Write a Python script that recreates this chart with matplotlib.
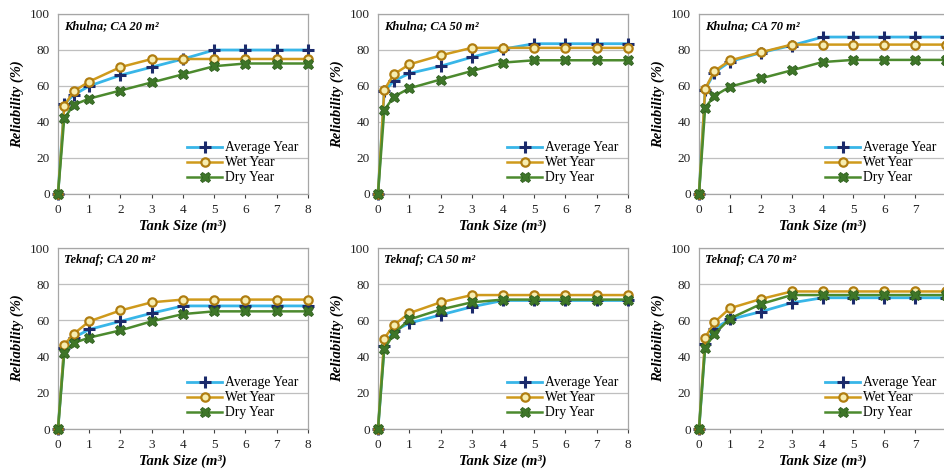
import matplotlib
matplotlib.use("Agg")
import matplotlib.pyplot as plt

tank_size = [0, 0.2, 0.5, 1, 2, 3, 4, 5, 6, 7, 8]
x_ticks = [0, 1, 2, 3, 4, 5, 6, 7, 8]
y_ticks = [0, 20, 40, 60, 80, 100]
series_names = ["Average Year", "Wet Year", "Dry Year"]

panel_titles = ["Khulna; CA 20 m²", "Khulna; CA 50 m²", "Khulna; CA 70 m²",
                "Teknaf; CA 20 m²", "Teknaf; CA 50 m²", "Teknaf; CA 70 m²"]

# Khulna
khulna20_avg = [0, 50, 55, 60, 66, 70.5, 75, 80, 80, 80, 80]
khulna20_wet = [0, 49, 57, 62.5, 70.5, 75, 75, 75, 75, 75, 75]
khulna20_dry = [0, 42, 49.5, 53, 57.5, 62, 66.5, 71, 72.5, 72.5, 72.5]

khulna50_avg = [0, 57, 62.7, 67, 71, 76, 80.5, 83.5, 83.5, 83.5, 83.5]
khulna50_wet = [0, 57.8, 66.4, 72, 77, 81.2, 81.2, 81.2, 81.2, 81.2, 81.2]
khulna50_dry = [0, 46.5, 54, 58.7, 63.6, 68.3, 73, 74.3, 74.3, 74.3, 74.3]

khulna70_avg = [0, 58, 67.5, 73.5, 78.5, 82.5, 87.2, 87.2, 87.2, 87.2, 87.2]
khulna70_wet = [0, 58.5, 68.3, 74.2, 78.7, 83, 83, 83, 83, 83, 83]
khulna70_dry = [0, 48, 54.5, 59.6, 64.2, 68.7, 73.3, 74.5, 74.5, 74.5, 74.5]

# Teknaf
teknaf20_avg = [0, 45, 50.5, 55, 59.5, 64, 68, 68, 68, 68, 68]
teknaf20_wet = [0, 46.5, 52.5, 59.5, 65.5, 70, 71.5, 71.5, 71.5, 71.5, 71.5]
teknaf20_dry = [0, 42, 47.5, 50.5, 54.5, 59.5, 63.5, 65, 65, 65, 65]

teknaf50_avg = [0, 46, 54, 58.5, 63, 67.5, 71, 71, 71, 71, 71]
teknaf50_wet = [0, 50, 57.3, 64, 70, 74, 74, 74, 74, 74, 74]
teknaf50_dry = [0, 44, 52.5, 60.5, 66, 70, 71.5, 71.5, 71.5, 71.5, 71.5]

teknaf70_avg = [0, 47, 55.5, 60.5, 64.8, 69.7, 72.5, 72.5, 72.5, 72.5, 72.5]
teknaf70_wet = [0, 50.5, 59, 66.7, 71.8, 76, 76, 76, 76, 76, 76]
teknaf70_dry = [0, 45, 52.5, 61, 69, 74, 74, 74, 74, 74, 74]

panel_data = [
    (khulna20_avg, khulna20_wet, khulna20_dry),
    (khulna50_avg, khulna50_wet, khulna50_dry),
    (khulna70_avg, khulna70_wet, khulna70_dry),
    (teknaf20_avg, teknaf20_wet, teknaf20_dry),
    (teknaf50_avg, teknaf50_wet, teknaf50_dry),
    (teknaf70_avg, teknaf70_wet, teknaf70_dry),
]

plt.rcParams['font.family'] = ['Liberation Serif', 'DejaVu Serif']

W, H = 945, 472
fig = plt.figure(figsize=(W / 100, H / 100), dpi=100)

col_left = [58, 378, 699]
col_width = [250, 250, 247]
row_top = [14, 248]
row_bottom = [194, 429]

styles = [
    dict(color='#38B6E8', lw=2.0, marker='+', ms=8, mew=2.2, mec='#1B2A6B', mfc='#1B2A6B', zorder=3),
    dict(color='#CF9A1C', lw=1.8, marker='o', ms=6, mew=1.6, mec='#B07D10', mfc='#F7EDB0', zorder=4),
    dict(color='#4C8A2E', lw=1.8, marker='X', ms=7.5, mew=0.6, mec='#2E5E1E', mfc='#3E7628', zorder=5),
]

grid_c = '#BFBFBF'
for i in range(6):
    r, c = divmod(i, 3)
    left = col_left[c] / W
    width = col_width[c] / W
    bottom = 1 - row_bottom[r] / H
    height = (row_bottom[r] - row_top[r]) / H
    ax = fig.add_axes([left, bottom, width, height])
    for name, vals, st in zip(series_names, panel_data[i], styles):
        ax.plot(tank_size, vals, label=name, clip_on=False, **st)
    ax.set_xlim(0, 8)
    ax.set_ylim(0, 100)
    ax.set_xticks(x_ticks)
    if c == 2:
        ax.set_xticklabels([str(t) if t < 8 else '' for t in x_ticks])
    ax.set_yticks(y_ticks)
    ax.tick_params(labelsize=9.5, colors='#404040', length=3, width=0.8)
    ax.tick_params(axis='y', length=0, pad=6)
    ax.tick_params(axis='x', pad=4)
    ax.yaxis.grid(True, color=grid_c, lw=0.9)
    ax.set_axisbelow(True)
    for sp in ax.spines.values():
        sp.set_color('#A6A6A6')
        sp.set_linewidth(0.9)
    for lab in ax.get_xticklabels() + ax.get_yticklabels():
        lab.set_color('#222222')
    ax.set_xlabel('Tank Size (m³)', fontsize=10.5, fontweight='bold', style='italic', labelpad=3)
    ax.set_ylabel('Reliability (%)', fontsize=10.5, fontweight='bold', style='italic', labelpad=4)
    ax.text(0.025, 0.965, panel_titles[i], transform=ax.transAxes, ha='left', va='top',
            fontsize=9, fontweight='bold', style='italic')
    ax.legend(loc='lower right', frameon=False, fontsize=9.8, handlelength=2.6,
              handletextpad=0.2, labelspacing=0.15, borderaxespad=0.3,
              bbox_to_anchor=(1.0, 0.0))

fig.savefig('out.png', dpi=100)
